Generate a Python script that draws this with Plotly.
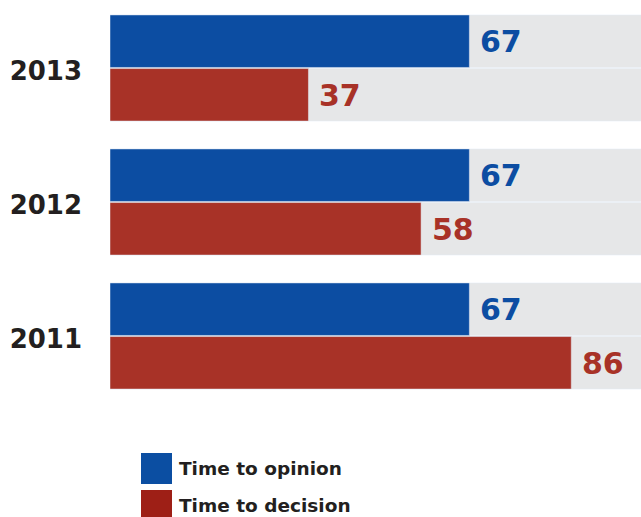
import plotly.graph_objects as go

years = ["2011", "2012", "2013"]
opinion = [67, 67, 67]
decision = [86, 58, 37]
scale_max = [100, 100, 100]
series_names = ["Time to opinion", "Time to decision"]

BLUE = "#0C4DA2"
RED = "#A83227"
GRAY = "#E6E7E8"
TXT = "#231F20"
FONT = "DejaVu Sans"

W = 0.392
fig = go.Figure()
# background tracks
fig.add_trace(go.Bar(y=years, x=scale_max, orientation="h", marker_color=GRAY,
                     width=W, offset=0.004, showlegend=False, hoverinfo="skip"))
fig.add_trace(go.Bar(y=years, x=scale_max, orientation="h", marker_color=GRAY,
                     width=W, offset=-0.396, showlegend=False, hoverinfo="skip"))
fig.add_trace(go.Bar(y=years, x=opinion, orientation="h", marker_color=BLUE,
                     width=W, offset=0.004, name=series_names[0], showlegend=False))
fig.add_trace(go.Bar(y=years, x=decision, orientation="h", marker_color=RED,
                     width=W, offset=-0.396, name=series_names[1], showlegend=False))

ann = []
for i, v in enumerate(opinion):
    ann.append(dict(x=v, y=i, xref="x", yref="y", text=str(v), showarrow=False,
                    xanchor="left", yanchor="middle", xshift=9, yshift=27,
                    font=dict(family=FONT, size=30, color=BLUE, weight="bold")))
for i, v in enumerate(decision):
    ann.append(dict(x=v, y=i, xref="x", yref="y", text=str(v), showarrow=False,
                    xanchor="left", yanchor="middle", xshift=9, yshift=-27,
                    font=dict(family=FONT, size=30, color=RED, weight="bold")))

# legend
shapes = [
    dict(type="rect", xref="paper", yref="paper", x0=0.0584, x1=0.1168, y0=-0.1244, y1=-0.2015,
         fillcolor="#0B4EA2", line_width=0),
    dict(type="rect", xref="paper", yref="paper", x0=0.0584, x1=0.1168, y0=-0.2164, y1=-0.2935,
         fillcolor="#9E1F16", line_width=0),
]
ann.append(dict(x=0.126, y=-0.164, xref="paper", yref="paper", text=series_names[0], showarrow=False,
                xanchor="left", yanchor="middle",
                font=dict(family=FONT, size=18.5, color=TXT, weight="bold")))
ann.append(dict(x=0.126, y=-0.256, xref="paper", yref="paper", text=series_names[1], showarrow=False,
                xanchor="left", yanchor="middle",
                font=dict(family=FONT, size=18.5, color=TXT, weight="bold")))

fig.update_layout(
    width=641, height=517,
    margin=dict(l=110, r=0, t=1, b=114),
    barmode="overlay",
    plot_bgcolor="white", paper_bgcolor="white",
    xaxis=dict(range=[0, 99], visible=False, fixedrange=True),
    yaxis=dict(range=[-0.5, 2.5], type="category", showgrid=False, zeroline=False,
               showline=False, ticks="", ticklabelstandoff=27, ticklabelshift=3,
               tickfont=dict(family=FONT, size=26, color=TXT, weight="bold")),
    annotations=ann, shapes=shapes,
    showlegend=False,
)
fig.write_html("out.html")
